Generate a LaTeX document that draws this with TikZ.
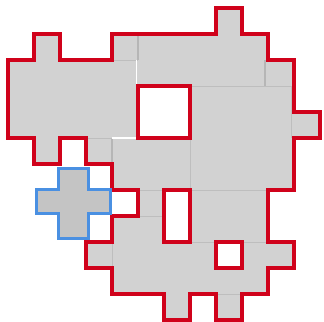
\documentclass[tikz,border=0pt]{standalone}
\usetikzlibrary{calc}
\definecolor{boardred}{HTML}{D0021B}
\definecolor{boardgray}{HTML}{D2D2D2}
\definecolor{seamgray}{HTML}{BEBEBE}
\definecolor{seamdark}{HTML}{B6B6B6}
\definecolor{crossblue}{HTML}{4A90E2}
\definecolor{crossgray}{HTML}{C4C4C4}
\tikzset{
    tile_board/.style={
        fill=boardgray,
        even odd rule
    },
    tile_outline/.style={
        draw=boardred,
        line width=2.35pt,
        line join=miter
    },
    tile_seam_light/.style={
        draw=seamgray,
        line width=0.7pt
    },
    tile_seam_dark/.style={
        draw=seamdark,
        line width=1.4pt
    },
    tile_seam_white/.style={
        draw=white,
        line width=0.8pt
    },
    tile_cross/.style={
        fill=crossgray,
        draw=crossblue,
        line width=2.2pt,
        line join=miter
    }
}
\newcommand{\boardoutline}{(0,2) -- (1,2) -- (1,1) -- (2,1) -- (2,2) -- (4,2) -- (4,1) -- (8,1) -- (8,0) -- (9,0) -- (9,1) -- (10,1) -- (10,2) -- (11,2) -- (11,4) -- (12,4) -- (12,5) -- (11,5) -- (11,7) -- (10,7) -- (10,9) -- (11,9) -- (11,10) -- (10,10) -- (10,11) -- (9,11) -- (9,12) -- (8,12) -- (8,11) -- (7,11) -- (7,12) -- (6,12) -- (6,11) -- (4,11) -- (4,10) -- (3,10) -- (3,9) -- (4,9) -- (4,8) -- (5,8) -- (5,7) -- (4,7) -- (4,6) -- (3,6) -- (3,5) -- (2,5) -- (2,6) -- (1,6) -- (1,5) -- (0,5) -- cycle}
\newcommand{\boardholes}{(5,3) rectangle (7,5) (6,7) rectangle (7,9) (8,9) rectangle (9,10)}

\begin{document}
\begin{tikzpicture}[x=0.65cm, y=-0.65cm]
\useasboundingbox (-0.3077,-0.3077) rectangle (12.1538,12.0385);

% --- Board ---
\fill[tile_board] \boardoutline \boardholes;

% --- Seams between tiles ---
\draw[tile_seam_dark] (5,1) -- (5,2);
\draw[tile_seam_dark] (9.9,2) -- (9.9,3);
\draw[tile_seam_dark] (4,5) -- (4,6);
\draw[tile_seam_light] (4,2) -- (5,2);
\draw[tile_seam_light] (7,3) -- (11,3);
\draw[tile_seam_light] (10.9,3) -- (10.9,5);
\draw[tile_seam_light] (3,5) -- (4,5);
\draw[tile_seam_light] (7,5) -- (7,7) -- (10,7);
\draw[tile_seam_light] (5,7) -- (6,7);
\draw[tile_seam_light] (5,8) -- (6,8);
\draw[tile_seam_light] (4,9) -- (4,10);
\draw[tile_seam_light] (7,9) -- (8,9);
\draw[tile_seam_light] (9,9) -- (10,9);
\draw[tile_seam_light] (8,11) -- (9,11);
\draw[tile_seam_white] (4.95,2) -- (4.95,3);
\draw[tile_seam_white] (4,5) -- (5,5);

% --- Outline and holes ---
\draw[tile_outline] \boardoutline;
\draw[tile_outline] \boardholes;

% --- Cross piece ---
\draw[tile_cross] (1.942,6.173) -- (3.096,6.173) -- (3.096,6.98) -- (3.942,6.98) -- (3.942,7.92) -- (3.096,7.92) -- (3.096,8.865) -- (1.942,8.865) -- (1.942,7.92) -- (1.096,7.92) -- (1.096,6.98) -- (1.942,6.98) -- cycle;

\end{tikzpicture}
\end{document}
